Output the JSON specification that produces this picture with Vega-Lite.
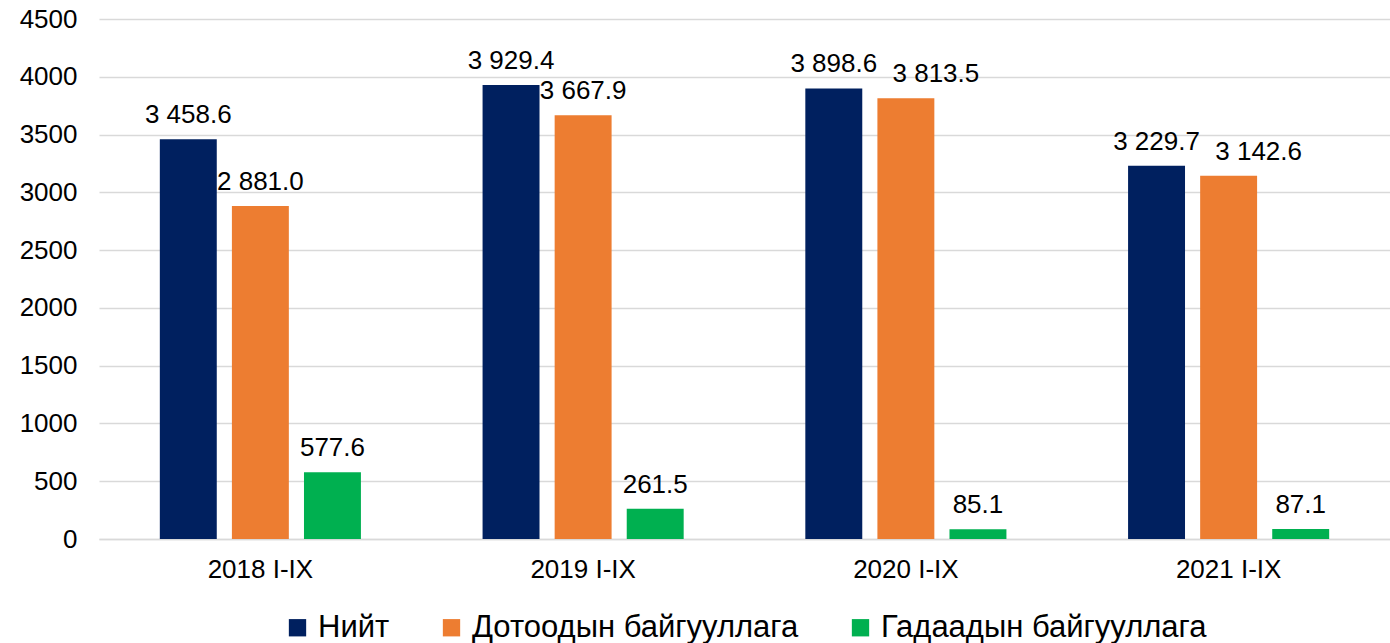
{
  "$schema": "https://vega.github.io/schema/vega-lite/v6.json",
  "width": 1390,
  "height": 643,
  "autosize": {"type": "fit", "contains": "padding"},
  "padding": {"left": 19, "top": 6, "right": 0, "bottom": 0},
  "config": {
    "view": {"stroke": null},
    "font": "Liberation Sans",
    "legend": {"layout": {"bottom": {"anchor": "middle"}}},
    "locale": {"number": {"decimal": ".", "thousands": " ", "grouping": [3], "currency": ["", ""]}}
  },
  "data": {
    "values": [
      {"year": "2018 I-IX", "series": "Нийт", "value": 3458.6},
      {"year": "2018 I-IX", "series": "Дотоодын байгууллага", "value": 2881.0},
      {"year": "2018 I-IX", "series": "Гадаадын байгууллага", "value": 577.6},
      {"year": "2019 I-IX", "series": "Нийт", "value": 3929.4},
      {"year": "2019 I-IX", "series": "Дотоодын байгууллага", "value": 3667.9},
      {"year": "2019 I-IX", "series": "Гадаадын байгууллага", "value": 261.5},
      {"year": "2020 I-IX", "series": "Нийт", "value": 3898.6},
      {"year": "2020 I-IX", "series": "Дотоодын байгууллага", "value": 3813.5},
      {"year": "2020 I-IX", "series": "Гадаадын байгууллага", "value": 85.1},
      {"year": "2021 I-IX", "series": "Нийт", "value": 3229.7},
      {"year": "2021 I-IX", "series": "Дотоодын байгууллага", "value": 3142.6},
      {"year": "2021 I-IX", "series": "Гадаадын байгууллага", "value": 87.1}
    ]
  },
  "encoding": {
    "x": {
      "field": "year", "type": "nominal", "title": null,
      "scale": {"paddingInner": 0.33, "paddingOuter": 0.165},
      "axis": {"labelAngle": 0, "labelFontSize": 26, "labelColor": "#000000", "labelPadding": 17, "ticks": false, "domainColor": "#d9d9d9", "domainWidth": 1.5, "grid": false}
    },
    "xOffset": {
      "field": "series", "type": "nominal",
      "sort": ["Нийт", "Дотоодын байгууллага", "Гадаадын байгууллага"],
      "scale": {"paddingInner": 0.21, "paddingOuter": 0.105}
    },
    "y": {
      "field": "value", "type": "quantitative", "title": null,
      "scale": {"domain": [0, 4500], "nice": false},
      "axis": {"values": [0, 500, 1000, 1500, 2000, 2500, 3000, 3500, 4000, 4500], "format": "d", "labelFontSize": 26, "labelColor": "#000000", "labelPadding": 22, "ticks": false, "domain": false, "gridColor": "#d9d9d9", "gridWidth": 1.5}
    }
  },
  "layer": [
    {
      "mark": {"type": "bar"},
      "encoding": {
        "color": {
          "field": "series", "type": "nominal",
          "sort": ["Нийт", "Дотоодын байгууллага", "Гадаадын байгууллага"],
          "scale": {"domain": ["Нийт", "Дотоодын байгууллага", "Гадаадын байгууллага"], "range": ["#00205f", "#ed7d31", "#00b050"]},
          "legend": {"title": null, "orient": "bottom", "direction": "horizontal", "symbolType": "square", "symbolSize": 300, "labelFontSize": 31, "labelLimit": 0, "labelColor": "#000000", "columnPadding": 46, "labelOffset": 5, "offset": 30}
        }
      }
    },
    {
      "transform": [{"filter": "!(datum.series == 'Дотоодын байгууллага' && (datum.year == '2020 I-IX' || datum.year == '2021 I-IX'))"}],
      "mark": {"type": "text", "baseline": "bottom", "dy": -11, "fontSize": 26, "color": "#000000"},
      "encoding": {
        "text": {"field": "value", "type": "quantitative", "format": ",.1f"}
      }
    },
    {
      "transform": [{"filter": "datum.series == 'Дотоодын байгууллага' && (datum.year == '2020 I-IX' || datum.year == '2021 I-IX')"}],
      "mark": {"type": "text", "baseline": "bottom", "dy": -11, "dx": 30, "fontSize": 26, "color": "#000000"},
      "encoding": {
        "text": {"field": "value", "type": "quantitative", "format": ",.1f"}
      }
    }
  ]
}
